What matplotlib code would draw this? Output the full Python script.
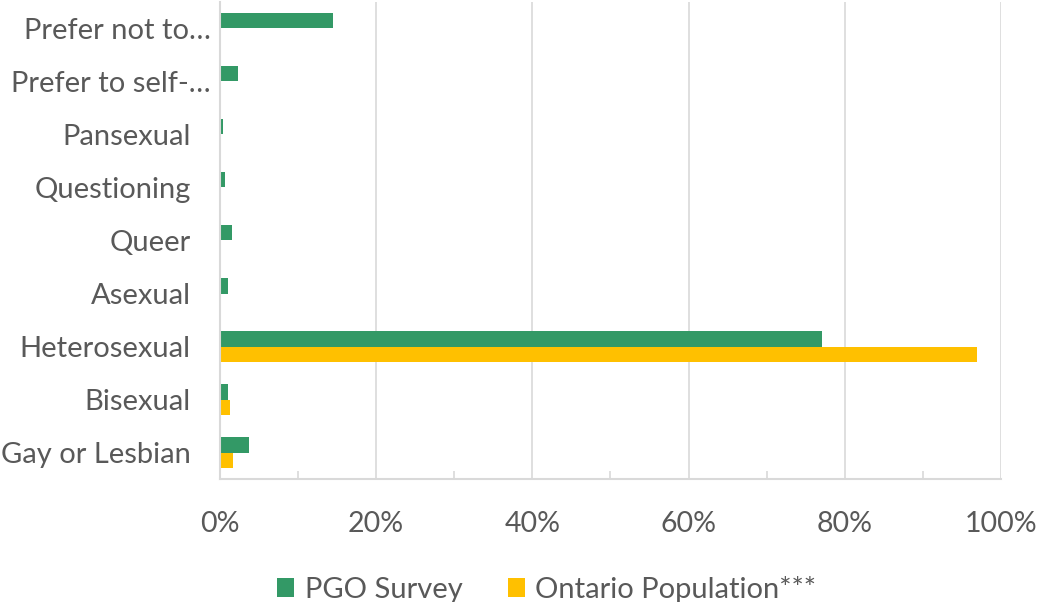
import numpy as np
import matplotlib.pyplot as plt
import matplotlib.transforms as mtransforms
from matplotlib.ticker import MultipleLocator, PercentFormatter

categories = ["Gay or Lesbian", "Bisexual", "Heterosexual", "Asexual", "Queer",
              "Questioning", "Pansexual", "Prefer to self-…", "Prefer not to…"]
pgo_survey = [3.7, 1.0, 77.1, 1.0, 1.6, 0.6, 0.35, 2.3, 14.5]
ontario_pop = [1.7, 1.3, 96.9, 0, 0, 0, 0, 0, 0]

green = "#339966"
yellow = "#FFC000"
text_gray = "#595959"
line_gray = "#D9D9D9"

plt.rcParams['font.family'] = ['Lato', 'DejaVu Sans']

fig = plt.figure(figsize=(10.41, 6.02), dpi=100)
ax = fig.add_axes([0.2113, 0.2043, 0.7503, 0.7924])

y = np.arange(len(categories))
h = 0.285
ax.barh(y + h / 2, pgo_survey, height=h, color=green, label="PGO Survey")
ax.barh(y - h / 2, ontario_pop, height=h, color=yellow, label="Ontario Population***")

ax.set_xlim(0, 100)
ax.set_ylim(-0.5, len(categories) - 0.5)
ax.set_yticks(y)
ax.set_yticklabels(categories)
ax.xaxis.set_major_locator(MultipleLocator(20))
ax.xaxis.set_minor_locator(MultipleLocator(10))
ax.xaxis.set_major_formatter(PercentFormatter(decimals=0))

ax.grid(axis='x', which='major', color=line_gray, lw=1.2)
ax.set_axisbelow(True)
ax.tick_params(axis='x', which='major', length=0, pad=23, labelsize=20.5, labelcolor=text_gray)
ax.tick_params(axis='x', which='minor', direction='in', length=6, width=1.2, color=line_gray)
ax.tick_params(axis='y', length=0, pad=21, labelsize=21, labelcolor=text_gray)

# truncated labels sit a little closer to the axis
shift = mtransforms.ScaledTranslation(0.2, 0, fig.dpi_scale_trans)
for lbl in ax.get_yticklabels():
    if lbl.get_text().endswith("…"):
        lbl.set_transform(lbl.get_transform() + shift)

for s in ['top', 'right']:
    ax.spines[s].set_visible(False)
for s in ['left', 'bottom']:
    ax.spines[s].set_color(line_gray)
    ax.spines[s].set_linewidth(1.5)

fig.legend(loc='lower center', ncol=2, frameon=False, fontsize=21,
           bbox_to_anchor=(0.525, -0.045), handlelength=0.6, handleheight=0.6,
           handletextpad=0.35, columnspacing=1.55, labelcolor=text_gray)

fig.savefig("out.png", dpi=100)
